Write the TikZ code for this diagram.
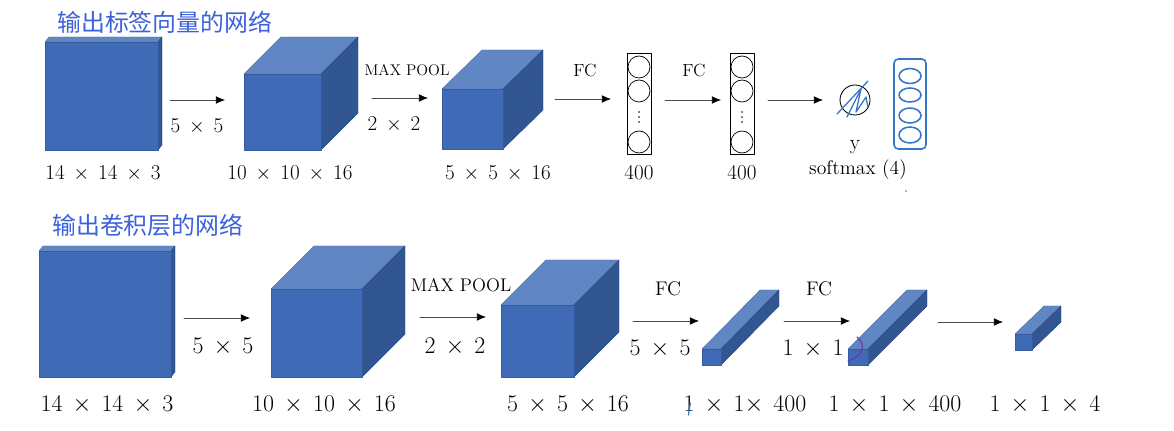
\documentclass[tikz,border=0pt]{standalone}
\usepackage{fontspec}
\newfontfamily\cjk{Noto Sans CJK SC}
\usetikzlibrary{arrows.meta}

\definecolor{frontblue}{RGB}{63,106,182}
\definecolor{topblue}{RGB}{96,134,196}
\definecolor{sideblue}{RGB}{50,86,145}
\definecolor{titleblue}{RGB}{60,98,218}
\definecolor{handblue}{RGB}{50,118,196}
\definecolor{handpurple}{RGB}{104,56,168}

% Wide times sign for the size labels
\newcommand{\tm}{\hspace{0.42em}$\times$\hspace{0.42em}}

% Block: front top-left (#1,#2), width #3, height #4, depth offset (#5,#6)
\newcommand{\cuboid}[6]{%
	\filldraw[topface]  (#1,#2) -- ++(#5,-#6) -- ++(#3,0) -- ++(-#5,#6) -- cycle;
	\filldraw[sideface] (#1,#2) ++(#3,0) -- ++(#5,-#6) -- ++(0,#4) -- ++(-#5,#6) -- cycle;
	\filldraw[frontface] (#1,#2) rectangle ++(#3,#4);
}

\begin{document}
\begin{tikzpicture}[x=0.025cm, y=-0.025cm, line cap=round, line join=round,
	>={Latex[length=6.5pt,width=5.5pt,color=black]},
	frontface/.style={fill=frontblue, draw=frontblue!85!black, line width=0.3pt},
	topface/.style={fill=topblue, draw=topblue!85!black, line width=0.3pt},
	sideface/.style={fill=sideblue, draw=sideblue!85!black, line width=0.3pt},
	flow/.style={->, draw=black!70, line width=0.55pt},
	title/.style={anchor=west, inner sep=0, text=titleblue, font=\fontsize{17}{20}\selectfont\cjk},
	toplbl/.style={inner sep=0, font=\fontsize{15}{18}\selectfont},
	botlbl/.style={inner sep=0, font=\fontsize{17}{20}\selectfont},
	hand/.style={draw=handblue, line width=1.1pt}]
	
	% Bounding box
	\useasboundingbox (0,0) rectangle (1174,431);
	
	% ---------------- Top network ----------------
	\node[title] (ttop) at (57,22) {输出标签向量的网络};
	
	\cuboid{45}{42}{113}{108}{4}{5}
	\cuboid{244}{74}{77}{76}{37}{37}
	\cuboid{442}{89}{61}{60}{40}{39}
	
	% Arrows
	\foreach \n/\xa/\xb/\yy in {1/170/225/100, 2/372/428/98, 3/555/611/99, 4/665/721/100, 5/768/823/100}{
		\coordinate (ta\n s) at (\xa,\yy);
		\coordinate (ta\n e) at (\xb,\yy);
		\draw[flow] (ta\n s) -- (ta\n e);
	}
	
	% Fully connected columns
	\foreach \n/\cx in {1/639, 2/742}{
		\node[draw, line width=0.6pt, minimum width=24*0.025cm, minimum height=101*0.025cm, inner sep=0]
			(col\n) at (\cx,103.5) {};
		\foreach \cy in {67, 91, 142}
			\draw[line width=0.5pt] (\cx,\cy) circle (11);
		\foreach \cy in {112, 117, 122}
			\fill (\cx,\cy) circle (0.9);
	}
	
	% Output unit with hand strokes
	\node[draw, circle, line width=0.6pt, minimum size=30*0.025cm, inner sep=0] (yout) at (855,100) {};
	\draw[hand, line width=0.9pt] (837,114) -- (868,81);
	\draw[hand, line width=0.9pt] (847,117) -- (861,89) -- (856,112) -- (866,97) -- (868,108);
	\draw[hand] (894,59) [rounded corners=3pt] rectangle (926,149);
	\foreach \cy/\ry in {76/7.5, 95/7, 115.5/7.5, 135/8}
		\draw[hand] (910,\cy) ellipse [x radius=11, y radius=\ry];
	\fill[black!60] (906,191) circle (0.8);
	
	% Labels
	\node[toplbl] (ta1) at (103,173) {14\tm 14\tm 3};
	\node[toplbl] (tk1) at (197,126) {5\tm 5};
	\node[toplbl] (ta2) at (290,173) {10\tm 10\tm 16};
	\node[inner sep=0, font=\fontsize{11}{13}\selectfont] (tmp) at (407,70) {MAX POOL};
	\node[toplbl] (tk2) at (394,124) {2\tm 2};
	\node[toplbl] (ta3) at (498,173) {5\tm 5\tm 16};
	\node[inner sep=0, font=\fontsize{12.5}{15}\selectfont] (tfc1) at (585,71) {FC};
	\node[inner sep=0, font=\fontsize{12.5}{15}\selectfont] (tfc2) at (694,71) {FC};
	\node[toplbl] (tn1) at (639,173) {400};
	\node[toplbl] (tn2) at (742,173) {400};
	\node[toplbl] (ty) at (855,147) {y};
	\node[inner sep=0, font=\fontsize{14}{17}\selectfont] (tsm) at (858,170) {softmax (4)};
	
	% ---------------- Bottom network ----------------
	\node[title] (tbot) at (52,225) {输出卷积层的网络};
	
	\cuboid{39}{251}{132}{126}{4}{5}
	\cuboid{271}{289}{91}{88}{43}{43}
	\cuboid{501}{305}{73}{72}{45}{45}
	\cuboid{702}{349}{19}{16}{58}{59}
	\cuboid{848}{349}{20}{16}{59}{59}
	\cuboid{1015}{334}{17}{16}{29}{28}
	
	% Arrows
	\foreach \n/\xa/\xb/\yy in {1/184/250/318, 2/420/486/317, 3/633/699/321, 4/784/850/321, 5/938/1003/322}{
		\coordinate (ba\n s) at (\xa,\yy);
		\coordinate (ba\n e) at (\xb,\yy);
		\draw[flow] (ba\n s) -- (ba\n e);
	}
	
	% Labels
	\node[botlbl] (ba1) at (107,405) {14\tm 14\tm 3};
	\node[botlbl] (bk1) at (223,347) {5\tm 5};
	\node[botlbl] (ba2) at (324,405) {10\tm 10\tm 16};
	\node[inner sep=0, font=\fontsize{13}{15}\selectfont] (bmp) at (461,285) {MAX POOL};
	\node[botlbl] (bk2) at (455,347) {2\tm 2};
	\node[botlbl] (ba3) at (568,405) {5\tm 5\tm 16};
	\node[inner sep=0, font=\fontsize{14}{17}\selectfont] (bfc1) at (668,289) {FC};
	\node[botlbl] (bk3) at (660,349) {5\tm 5};
	\node[botlbl] (ba4) at (745,405) {1\tm 1$\times$\hspace{0.42em}400};
	\node[inner sep=0, font=\fontsize{14}{17}\selectfont] (bfc2) at (819,289) {FC};
	\node[botlbl] (bk4) at (813,349) {1\tm 1};
	\node[botlbl] (ba5) at (895,405) {1\tm 1\tm 400};
	\node[botlbl] (ba6) at (1045,405) {1\tm 1\tm 4};
	
	% Hand marks
	\draw[draw=handpurple, line width=0.8pt] (857,337) .. controls (866,344) and (864,356) .. (848,361);
	\draw[draw=handblue, line width=0.9pt] ([xshift=5pt,yshift=8pt]ba4.south west) -- ([xshift=3.6pt,yshift=-0.5pt]ba4.south west);
	
\end{tikzpicture}
\end{document}
